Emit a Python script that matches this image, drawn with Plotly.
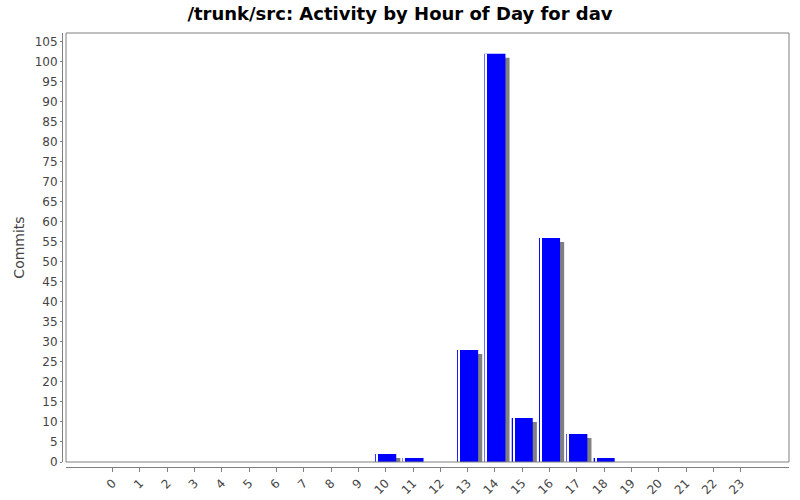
import plotly.graph_objects as go

hours = list(range(24))
commits = [0, 0, 0, 0, 0, 0, 0, 0, 0, 0, 2, 1, 0, 28, 102, 11, 56, 7, 1, 0, 0, 0, 0, 0]
tick_labels = [str(h) for h in hours]

title = "/trunk/src: Activity by Hour of Day for dav"
y_title = "Commits"

# JFreeChart-like shadow: same bar, 4px right and 4px (= 1 commit) lower
shadow = [max(v - 1, 0) for v in commits]

bar_w = 0.77
font = "DejaVu Sans"

fig = go.Figure()

fig.add_trace(go.Bar(
    x=hours, y=shadow,
    width=bar_w, offset=-bar_w / 2 + 0.15,
    marker=dict(color="#808080", line=dict(width=0)),
    hoverinfo="skip",
))
fig.add_trace(go.Bar(
    x=hours, y=commits,
    width=bar_w, offset=-bar_w / 2,
    marker=dict(color="#0000ff", line=dict(width=0)),
))
# thin white highlight near the left edge of each bar
fig.add_trace(go.Bar(
    x=hours, y=commits,
    width=0.04, offset=-bar_w / 2 + 0.05,
    marker=dict(color="#ffffff", line=dict(width=0)),
    hoverinfo="skip",
))

fig.update_layout(
    width=800, height=500,
    barmode="overlay",
    showlegend=False,
    paper_bgcolor="white",
    plot_bgcolor="white",
    margin=dict(l=40, r=11, t=33, b=30, autoexpand=False),
    font=dict(family=font, size=12, color="#444444"),
    title=dict(
        text="<b>" + title + "</b>",
        font=dict(family=font, size=18, color="#000000"),
        x=0.5, xanchor="center",
        y=1 - 14 / 500, yanchor="middle", yref="container",
    ),
    xaxis=dict(
        domain=[26 / 749, 1],
        range=[-1.71, 24.77],
        tickmode="array",
        tickvals=hours,
        ticktext=tick_labels,
        tickangle=-45,
        ticks="outside", ticklen=4, tickcolor="#808080",
        showline=True, linecolor="#808080", linewidth=1,
        showgrid=False, zeroline=False,
        anchor="free", position=3.5 / 437,
        automargin=False,
        tickfont=dict(size=12, color="#444444"),
    ),
    yaxis=dict(
        domain=[8 / 437, 1],
        range=[0, 107.2],
        dtick=5,
        ticks="outside", ticklen=2, tickcolor="#808080",
        showline=True, linecolor="#808080", linewidth=1,
        showgrid=False, zeroline=False,
        anchor="free", position=22 / 749,
        automargin=False,
        tickfont=dict(size=12, color="#444444"),
        title=dict(text=y_title, font=dict(size=14, color="#444444"), standoff=5),
    ),
    shapes=[dict(
        type="rect", xref="x domain", yref="y domain",
        x0=0, x1=1, y0=0, y1=1,
        line=dict(color="#808080", width=1),
        layer="above",
    )],
)

# drop the browser's default 8px body margin so the chart sits at (0, 0)
fig.write_html(
    "out.html",
    config={"displayModeBar": False},
    post_script="document.body.style.margin = '0';",
)
